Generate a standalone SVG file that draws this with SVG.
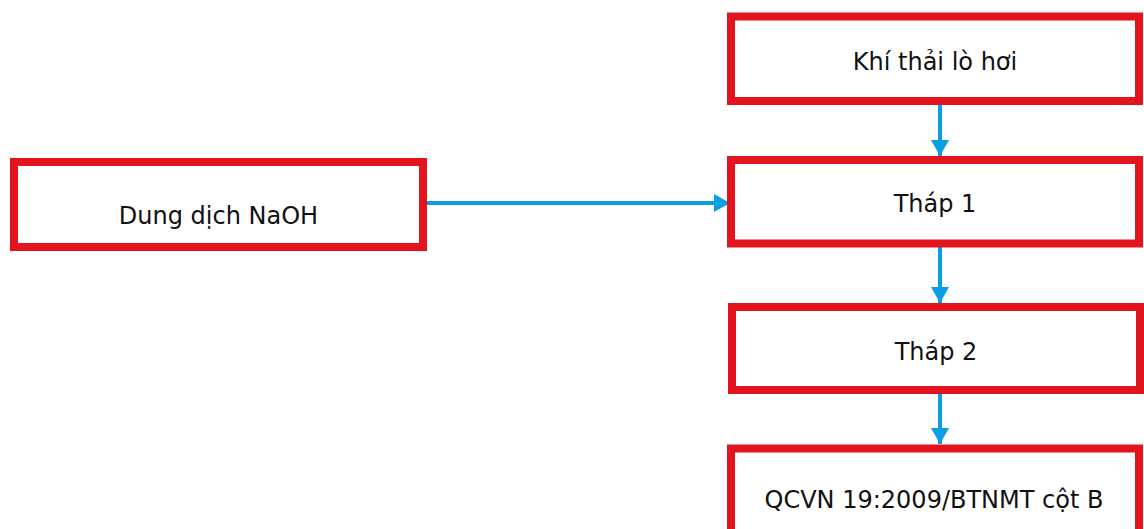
<svg xmlns="http://www.w3.org/2000/svg" width="1144" height="529" viewBox="0 0 1144 529">
  <defs>
    <style>
      .box { fill: #ffffff; stroke: #E3141E; stroke-width: 8; }
      .lbl { font-family: "DejaVu Sans", Verdana, sans-serif; font-size: 24px; fill: #111111; text-anchor: middle; }
      .conn { stroke: #0A9FE3; stroke-width: 4; fill: none; }
    </style>
    <marker id="ah" markerUnits="userSpaceOnUse" markerWidth="18" markerHeight="18" refX="16" refY="9" orient="auto">
      <path d="M0,0 L16,9 L0,18 Z" fill="#0A9FE3"/>
    </marker>
  </defs>
  <rect width="1144" height="529" fill="#ffffff"/>
  <g id="connectors">
    <line class="conn" x1="940" y1="104" x2="940" y2="156" marker-end="url(#ah)"/>
    <line class="conn" x1="940" y1="247" x2="940" y2="303" marker-end="url(#ah)"/>
    <line class="conn" x1="940" y1="394" x2="940" y2="444" marker-end="url(#ah)"/>
    <line class="conn" x1="427" y1="203" x2="730" y2="203" marker-end="url(#ah)"/>
  </g>
  <g id="node-khithai">
    <rect class="box" x="731" y="16.5" width="408" height="84.5"/>
    <text class="lbl" x="935" y="70">Khí thải lò hơi</text>
  </g>
  <g id="node-naoh">
    <rect class="box" x="14" y="162" width="409" height="85"/>
    <text class="lbl" x="218.5" y="224">Dung dịch NaOH</text>
  </g>
  <g id="node-thap1">
    <rect class="box" x="731" y="160" width="408" height="83.5"/>
    <text class="lbl" x="935" y="212">Tháp 1</text>
  </g>
  <g id="node-thap2">
    <rect class="box" x="732" y="307" width="408" height="83"/>
    <text class="lbl" x="936" y="360">Tháp 2</text>
  </g>
  <g id="node-qcvn">
    <rect class="box" x="731" y="448.5" width="408" height="85"/>
    <text class="lbl" x="934" y="508">QCVN 19:2009/BTNMT cột B</text>
  </g>
</svg>
